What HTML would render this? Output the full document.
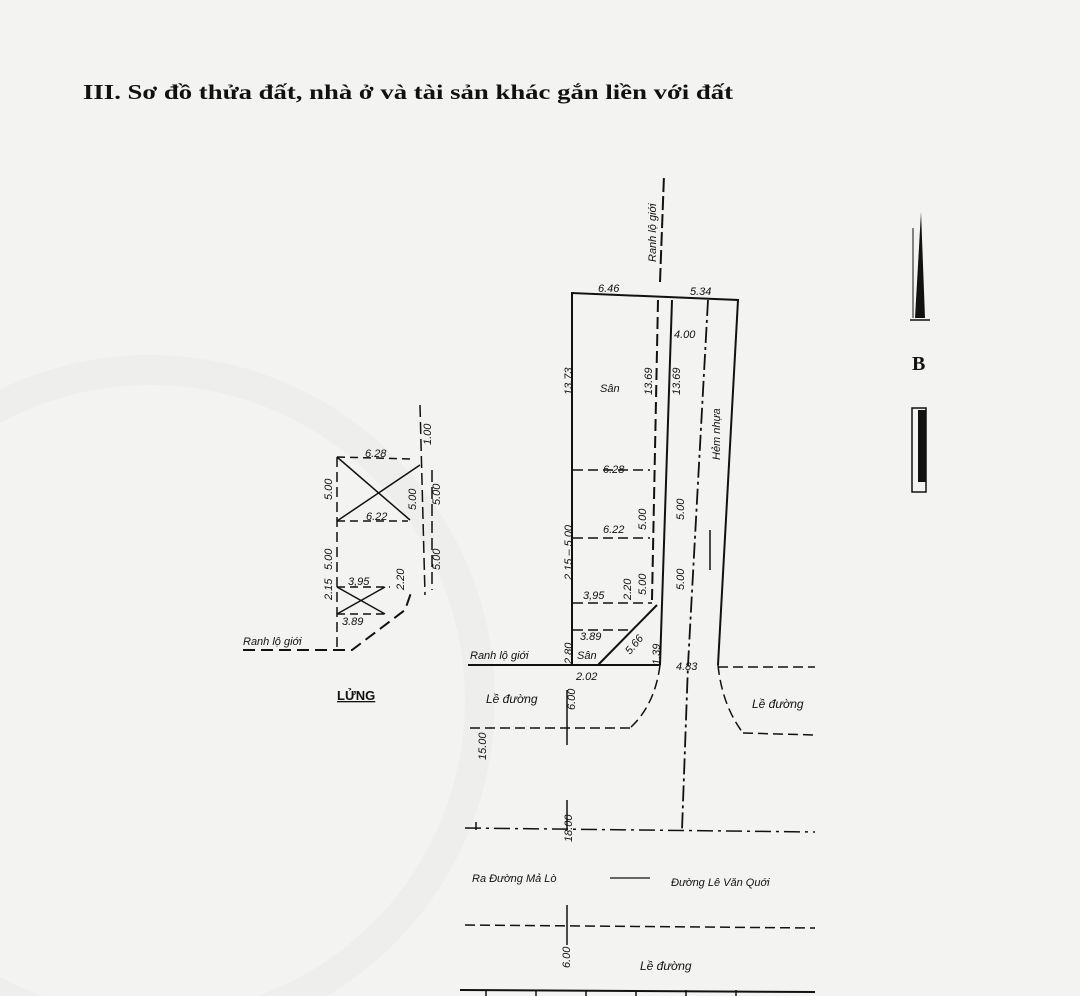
<!DOCTYPE html>
<html><head><meta charset="utf-8"><style>
html,body{margin:0;padding:0;background:#f3f3f1;}
svg{display:block}
.t{font-family:"Liberation Sans",sans-serif;font-style:italic;fill:#111}
</style></head><body>
<svg width="1080" height="996" viewBox="0 0 1080 996" xmlns="http://www.w3.org/2000/svg">
<rect width="1080" height="996" fill="#f3f3f1"/>
<circle cx="150" cy="700" r="330" fill="none" stroke="#eeeeec" stroke-width="30"/>
<text x="83" y="99" font-family="Liberation Serif,serif" font-weight="bold" font-size="21" fill="#111" textLength="650" lengthAdjust="spacingAndGlyphs">III. Sơ đồ thửa đất, nhà ở và tài sản khác gắn liền với đất</text>
<g stroke="#111" fill="none" stroke-width="2">
<polyline points="572,665 572,293 738,300 718,665"/>
<line x1="672" y1="300" x2="660" y2="665"/>
<line x1="658" y1="300" x2="652" y2="600" stroke-dasharray="12,5"/>
<polyline points="708,300 688,665 682,830" stroke-dasharray="16,4,3,4" stroke-width="1.8"/>
<line x1="660" y1="282" x2="664" y2="175" stroke-dasharray="14,4" />
<line x1="468" y1="665" x2="660" y2="665"/>
<line x1="718" y1="667" x2="815" y2="667" stroke-dasharray="10,5" stroke-width="1.5"/>
<line x1="598" y1="665" x2="657" y2="605"/>
<path d="M660,665 Q655,705 630,728" stroke-dasharray="10,5" stroke-width="1.5"/>
<line x1="630" y1="728" x2="465" y2="728" stroke-dasharray="10,5" stroke-width="1.5"/>
<path d="M718,665 Q722,705 743,733" stroke-dasharray="10,5" stroke-width="1.5"/>
<line x1="743" y1="733" x2="815" y2="735" stroke-dasharray="10,5" stroke-width="1.5"/>
<line x1="465" y1="828" x2="815" y2="832" stroke-dasharray="16,5,3,5" stroke-width="1.5"/>
<line x1="465" y1="925" x2="815" y2="928" stroke-dasharray="10,5" stroke-width="1.5"/>
<line x1="460" y1="990" x2="815" y2="992"/>
<g stroke-width="1.5">
<line x1="573" y1="470" x2="650" y2="470" stroke-dasharray="10,5"/>
<line x1="573" y1="538" x2="650" y2="538" stroke-dasharray="10,5"/>
<line x1="573" y1="603" x2="652" y2="603" stroke-dasharray="10,5"/>
<line x1="573" y1="630" x2="630" y2="630" stroke-dasharray="10,5"/>
<line x1="567" y1="830" x2="567" y2="800"/><line x1="567" y1="690" x2="567" y2="745"/>
<line x1="567" y1="905" x2="567" y2="945"/>
<line x1="486" y1="990" x2="486" y2="996"/><line x1="536" y1="990" x2="536" y2="996"/><line x1="586" y1="990" x2="586" y2="996"/><line x1="636" y1="990" x2="636" y2="996"/><line x1="686" y1="990" x2="686" y2="996"/><line x1="736" y1="990" x2="736" y2="996"/>
<line x1="710" y1="530" x2="710" y2="570"/>
<line x1="476" y1="822" x2="476" y2="830"/>
</g>
<g stroke-width="1.5">
<polyline points="337,457 337,650" stroke-dasharray="10,5"/>
<line x1="337" y1="457" x2="412" y2="459" stroke-dasharray="8,5"/>
<line x1="337" y1="521" x2="408" y2="521" stroke-dasharray="8,5"/>
<line x1="337" y1="587" x2="390" y2="587" stroke-dasharray="8,5"/>
<line x1="337" y1="614" x2="385" y2="614" stroke-dasharray="8,5"/>
<line x1="337" y1="457" x2="410" y2="520"/><line x1="337" y1="521" x2="420" y2="465"/>
<line x1="337" y1="587" x2="385" y2="614"/><line x1="337" y1="614" x2="385" y2="587"/>
<line x1="420" y1="405" x2="425" y2="595" stroke-dasharray="12,5"/>
<line x1="432" y1="470" x2="432" y2="590" stroke-dasharray="12,5"/>
<polyline points="243,650 352,650 405,610 412,590" stroke-dasharray="12,6" stroke-width="2"/>
</g>
<polygon points="921,212 915,318 925,318" fill="#111" stroke="none"/>
<line x1="913" y1="318" x2="913" y2="228" stroke-width="1"/>
<line x1="910" y1="320" x2="930" y2="320" stroke-width="1.5"/>
<rect x="912" y="408" width="14" height="84" fill="none" stroke-width="1.5"/>
<rect x="918" y="410" width="8" height="72" fill="#111" stroke="none"/>
</g>
<text x="912" y="370" font-family="Liberation Serif,serif" font-weight="bold" font-size="20" fill="#111">B</text>
<g class="t" font-size="11">
<text transform="translate(656,262) rotate(-90)" font-size="11">Ranh lộ giới</text>
<text x="598" y="292">6.46</text><text x="690" y="295">5.34</text>
<text x="674" y="338">4.00</text>
<text transform="translate(572,395) rotate(-90)">13.73</text>
<text transform="translate(652,395) rotate(-90)">13.69</text>
<text transform="translate(680,395) rotate(-90)">13.69</text>
<text transform="translate(720,460) rotate(-90)">Hẻm nhựa</text>
<text x="600" y="392">Sân</text>
<text x="603" y="473">6.28</text><text x="603" y="533">6.22</text>
<text transform="translate(646,530) rotate(-90)">5.00</text>
<text transform="translate(684,520) rotate(-90)">5.00</text>
<text transform="translate(572,580) rotate(-90)">2.15 – 5.00</text>
<text transform="translate(646,595) rotate(-90)">5.00</text>
<text transform="translate(684,590) rotate(-90)">5.00</text>
<text transform="translate(631,600) rotate(-90)">2.20</text>
<text x="583" y="599">3,95</text><text x="580" y="640">3.89</text>
<text x="577" y="659">Sân</text>
<text transform="translate(572,664) rotate(-90)">2.80</text>
<text x="576" y="680">2.02</text>
<text transform="translate(630,655) rotate(-50)">5.66</text>
<text transform="translate(660,665) rotate(-90)">1.39</text>
<text x="676" y="670">4.83</text>
<text x="470" y="659">Ranh lộ giới</text>
<text x="486" y="703" font-size="12">Lề đường</text>
<text x="752" y="708" font-size="12">Lề đường</text>
<text transform="translate(575,710) rotate(-90)">6.00</text>
<text transform="translate(486,760) rotate(-90)">15.00</text>
<text transform="translate(572,842) rotate(-90)">18.00</text>
<text x="472" y="882">Ra Đường Mả Lò</text>
<text x="671" y="886">Đường Lê Văn Quới</text>
<line x1="610" y1="878" x2="650" y2="878" stroke="#111" stroke-width="1.2"/>
<text transform="translate(570,968) rotate(-90)">6.00</text>
<text x="640" y="970" font-size="12">Lề đường</text>
<text x="365" y="457">6.28</text><text x="366" y="520">6.22</text>
<text transform="translate(332,500) rotate(-90)">5.00</text>
<text transform="translate(332,570) rotate(-90)">5.00</text>
<text transform="translate(332,600) rotate(-90)">2.15</text>
<text x="348" y="585">3,95</text><text x="342" y="625">3.89</text>
<text transform="translate(416,510) rotate(-90)">5.00</text>
<text transform="translate(440,505) rotate(-90)">5.00</text>
<text transform="translate(440,570) rotate(-90)">5.00</text>
<text transform="translate(404,590) rotate(-90)">2.20</text>
<text transform="translate(431,445) rotate(-90)">1.00</text>
<text x="243" y="645">Ranh lộ giới</text>
</g>
<text x="337" y="700" font-family="Liberation Sans,sans-serif" font-weight="bold" font-size="13" text-decoration="underline" fill="#111">LỬNG</text>
</svg>
</body></html>
